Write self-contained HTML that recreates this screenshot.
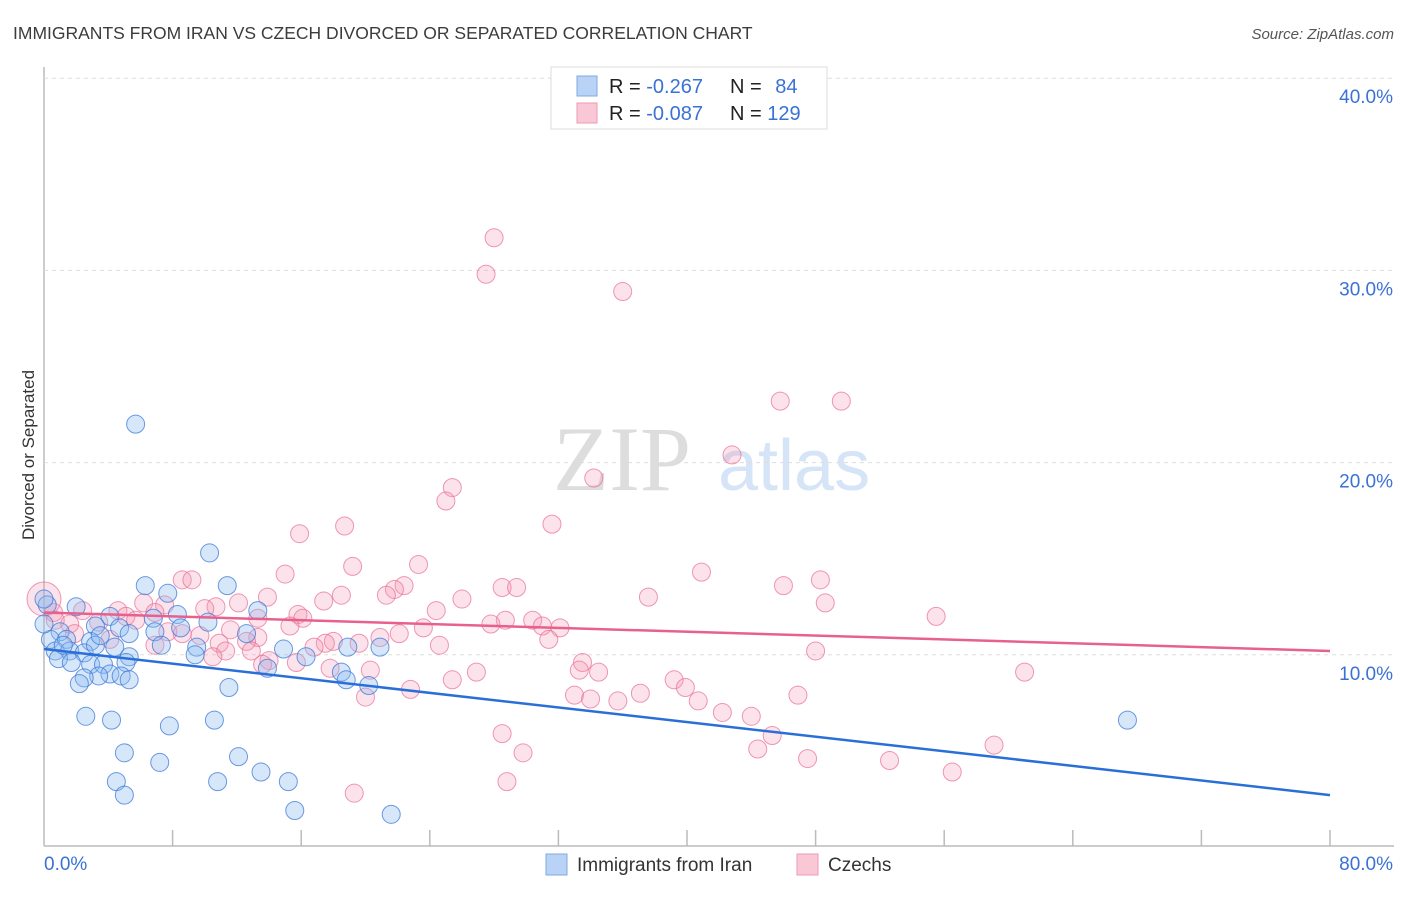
<!DOCTYPE html>
<html><head><meta charset="utf-8"><style>
body{margin:0;background:#fff;font-family:"Liberation Sans",sans-serif}
#c{position:relative;width:1406px;height:892px}
</style></head><body>
<div id="c">
<svg id="s" width="1406" height="892" xmlns="http://www.w3.org/2000/svg">
<text x="13" y="39" font-size="17.5" fill="#3c3c3c">IMMIGRANTS FROM IRAN VS CZECH DIVORCED OR SEPARATED CORRELATION CHART</text>
<text x="1394" y="39" font-size="15" fill="#555" font-style="italic" text-anchor="end">Source: ZipAtlas.com</text>
<text x="34" y="455" font-size="17" fill="#333" text-anchor="middle" transform="rotate(-90 34 455)">Divorced or Separated</text>
<g>
<text x="553" y="490" font-size="92" fill="#ddd" font-family="Liberation Serif,serif">ZIP</text>
<text x="718" y="490" font-size="72" fill="#d6e4f7">atlas</text>
</g>
<g id="grid"></g><g id="pts"></g><g id="lines"></g>
<g>
<rect x="551" y="67" width="276" height="62" fill="#fff" stroke="#ddd"/>
<rect x="577" y="76" width="20" height="20" fill="#b8d3f5" stroke="#7fa8e0"/>
<rect x="577" y="103" width="20" height="20" fill="#f9c7d6" stroke="#ef9ab5"/>
<text x="609" y="93" font-size="20" fill="#222">R = <tspan fill="#3a72d4">-0.267</tspan></text>
<text x="730" y="93" font-size="20" fill="#222">N = <tspan fill="#3a72d4" dx="8">84</tspan></text>
<text x="609" y="120" font-size="20" fill="#222">R = <tspan fill="#3a72d4">-0.087</tspan></text>
<text x="730" y="120" font-size="20" fill="#222">N = <tspan fill="#3a72d4">129</tspan></text>
</g>
<g>
<rect x="546" y="854" width="21" height="21" fill="#b8d3f5" stroke="#7fa8e0"/>
<text x="577" y="871" font-size="19" fill="#333">Immigrants from Iran</text>
<rect x="797" y="854" width="21" height="21" fill="#f9c7d6" stroke="#ef9ab5"/>
<text x="828" y="871" font-size="19" fill="#333">Czechs</text>
</g>
</svg>
</div>
<script>
const yTicks=[10,20,30,40];
const yTickLabels=["10.0%","20.0%","30.0%","40.0%"];
const xEndLabels=["0.0%","80.0%"];
const iranX=[5.7,10.3,6.3,11.4,7.7,0.2,2.0,13.3,8.3,4.1,6.8,10.2,4.7,3.2,5.3,6.9,8.5,12.6,1.0,0.4,1.4,2.9,4.4,7.3,9.5,14.9,18.9,20.9,0.7,1.6,2.5,3.2,0.9,1.7,5.3,9.4,16.3,2.9,3.7,5.1,13.9,4.1,3.4,4.8,18.5,2.5,5.3,2.2,18.8,11.5,20.2,2.6,4.2,7.8,10.6,67.4,5.0,12.1,7.2,13.5,4.5,10.8,15.2,5.0,15.6,21.6,0,0,3.5,1.2];
const iranY=[22.0,15.3,13.6,13.6,13.2,12.6,12.5,12.3,12.1,12.0,11.9,11.7,11.4,11.5,11.1,11.2,11.4,11.1,11.2,10.8,10.8,10.7,10.4,10.5,10.4,10.3,10.4,10.4,10.2,10.2,10.1,10.5,9.8,9.6,9.9,10.0,9.9,9.5,9.5,9.6,9.3,9.0,8.9,8.9,9.1,8.8,8.7,8.5,8.7,8.3,8.4,6.8,6.6,6.3,6.6,6.6,4.9,4.7,4.4,3.9,3.4,3.4,3.4,2.7,1.9,1.7,12.9,11.6,11.0,10.5];
const czX=[28.0,27.5,36.0,45.8,49.6,42.8,34.2,25.4,25.0,31.6,18.7,15.9,23.3,19.2,40.9,15.0,8.6,9.2,48.3,22.4,28.5,29.4,46.0,21.8,21.3,18.5,37.6,13.9,26.0,17.4,48.6,6.2,12.1,10.7,10.0,24.4,7.5,15.8,55.5,0.6,2.4,4.6,5.1,6.9,13.3,16.1,28.7,30.4,15.3,23.6,27.8,31.0,32.1,11.6,22.1,7.7,8.6,9.7,13.3,20.9,12.6,10.9,18.0,17.5,19.6,24.6,31.4,6.9,16.8,11.3,12.9,10.5,48.0,14.0,15.7,13.6,33.5,17.8,33.3,34.5,20.3,26.9,25.4,39.2,39.9,61.0,22.8,33.0,37.1,46.9,34.0,35.7,20.0,40.7,42.2,44.0,28.5,45.3,44.4,59.1,29.8,47.5,52.6,56.5,28.8,19.3,0,0.7,1.6,3.4,5.7,4.1,1.9];
const czY=[31.7,29.8,28.9,23.2,23.2,20.4,19.2,18.7,18.0,16.8,16.7,16.3,14.7,14.6,14.3,14.2,13.9,13.9,13.9,13.6,13.5,13.5,13.6,13.4,13.1,13.1,13.0,13.0,12.9,12.8,12.7,12.7,12.7,12.5,12.4,12.3,12.6,12.1,12.0,12.2,12.3,12.3,12.0,12.2,11.9,11.9,11.8,11.8,11.5,11.4,11.6,11.5,11.4,11.3,11.1,11.2,11.1,11.0,10.9,10.9,10.7,10.6,10.7,10.6,10.6,10.5,10.8,10.5,10.4,10.2,10.2,9.9,10.2,9.7,9.6,9.5,9.6,9.3,9.2,9.1,9.2,9.1,8.7,8.7,8.3,9.1,8.2,7.9,8.0,7.9,7.7,7.6,7.8,7.6,7.0,6.8,5.9,5.8,5.1,5.3,4.9,4.6,4.5,3.9,3.4,2.8,12.9,11.8,11.6,11.7,11.8,10.8,11.1];
const iranTrend=[10.3,2.7];
const czTrend=[12.2,10.2];
const X0=44,X1=1330,Y0=847,PX=19.22;
const xs=v=>X0+(v/80)*(X1-X0);
const ys=v=>Y0-v*PX;
const NS="http://www.w3.org/2000/svg";
function mk(tag,attrs,parent){const e=document.createElementNS(NS,tag);for(const k in attrs)e.setAttribute(k,attrs[k]);parent.appendChild(e);return e;}
const grid=document.getElementById('grid');
let ax=mk('line',{x1:44,y1:67,x2:44,y2:846,stroke:'#bbb','stroke-width':1.5},grid);


let bx=mk('line',{x1:44,y1:846,x2:1394,y2:846,stroke:'#bbb','stroke-width':1.5},grid);


yTicks.forEach((t,i)=>{
 const g=mk('line',{x1:44,y1:ys(t),x2:1394,y2:ys(t),stroke:'#ddd','stroke-dasharray':'4,4'},grid);
 
 
 const l=mk('text',{x:1393,y:ys(t)+25,'font-size':19,fill:'#3a72d4','text-anchor':'end'},grid);
 l.textContent=yTickLabels[i];
 
 
});
for(let i=1;i<=10;i++){
 const x=xs(i*8);
 const t=mk('line',{x1:x,y1:846,x2:x,y2:830,stroke:'#bbb','stroke-width':1.5},grid);
 
 
}
const xl0=mk('text',{x:44,y:870,'font-size':19,fill:'#3a72d4'},grid);xl0.textContent=xEndLabels[0];


const xl1=mk('text',{x:1393,y:870,'font-size':19,fill:'#3a72d4','text-anchor':'end'},grid);xl1.textContent=xEndLabels[1];


const pts=document.getElementById('pts');
function big(x,y){return x===0&&y>12.5;}
czX.forEach((x,i)=>{
 const c=mk('circle',{cx:xs(x),cy:ys(czY[i]),r:big(x,czY[i])?17:9,fill:'rgba(244,150,180,0.28)',stroke:'rgba(232,110,150,0.7)','stroke-width':1},pts);
 
 
});
iranX.forEach((x,i)=>{
 const c=mk('circle',{cx:xs(x),cy:ys(iranY[i]),r:9,fill:'rgba(140,185,240,0.35)',stroke:'rgba(60,120,215,0.75)','stroke-width':1},pts);
 
 
});
const lines=document.getElementById('lines');
const l1=mk('line',{x1:xs(0),y1:ys(czTrend[0]),x2:xs(80),y2:ys(czTrend[1]),stroke:'#e8608c','stroke-width':2.5},lines);


const l2=mk('line',{x1:xs(0),y1:ys(iranTrend[0]),x2:xs(80),y2:ys(iranTrend[1]),stroke:'#2a6fd8','stroke-width':2.5},lines);


</script>
</body></html>
